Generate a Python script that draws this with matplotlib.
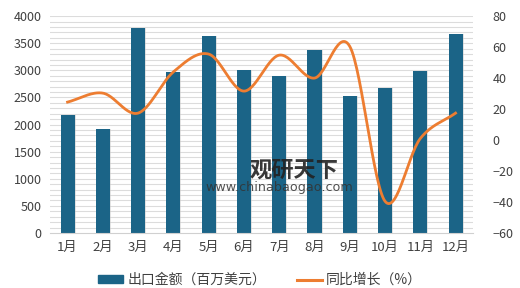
import numpy as np
import matplotlib
matplotlib.use("Agg")
import matplotlib.pyplot as plt
from matplotlib.patches import Patch
from matplotlib.lines import Line2D

plt.rcParams['font.family'] = ['Noto Sans CJK SC', 'DejaVu Sans']

months = ['1月', '2月', '3月', '4月', '5月', '6月', '7月', '8月', '9月', '10月', '11月', '12月']
export_value = [2175, 1917, 3779, 2968, 3631, 3005, 2894, 3373, 2525, 2673, 2986, 3668]
yoy_growth = [24.5, 30.3, 17.4, 44.0, 55.5, 31.6, 54.8, 40.0, 60.5, -39.5, 1.0, 17.4]

bar_color = '#1B6487'
line_color = '#ED7D31'


def catmull_rom(x, y, n=30):
    x = np.asarray(x, float)
    y = np.asarray(y, float)
    px = np.concatenate([[2 * x[0] - x[1]], x, [2 * x[-1] - x[-2]]])
    py = np.concatenate([[2 * y[0] - y[1]], y, [2 * y[-1] - y[-2]]])
    xs, ys = [], []
    for i in range(1, len(px) - 2):
        t = np.linspace(0, 1, n, endpoint=False)
        for P, out in ((px, xs), (py, ys)):
            p0, p1, p2, p3 = P[i - 1], P[i], P[i + 1], P[i + 2]
            out.append(0.5 * ((2 * p1) + (-p0 + p2) * t +
                              (2 * p0 - 5 * p1 + 4 * p2 - p3) * t ** 2 +
                              (-p0 + 3 * p1 - 3 * p2 + p3) * t ** 3))
    xs.append([x[-1]])
    ys.append([y[-1]])
    return np.concatenate(xs), np.concatenate(ys)


fig = plt.figure(figsize=(5.2, 2.88), dpi=100)
ax = fig.add_axes([0.096, 0.191, 0.814, 0.753])
ax2 = ax.twinx()

x = np.arange(len(months))
ax.set_axisbelow(True)
for yv in range(100, 4001, 100):
    ax.axhline(yv, color='#DCDCDC', lw=0.8, zorder=0)
ax.bar(x + 0.03, export_value, width=0.4, color='#C8C8C8', alpha=0.5, zorder=1)
ax.bar(x, export_value, width=0.4, color=bar_color, zorder=2)
ax.set_ylim(0, 4000)
ax.set_yticks(range(0, 4001, 500))
ax.set_xlim(-0.5, len(months) - 0.5)
ax.set_xticks(x)
ax.set_xticklabels(months, fontsize=9.5, color='#404040')
ax.tick_params(axis='y', labelsize=9, colors='#404040', length=0, pad=6)
ax.tick_params(axis='x', length=0, pad=6)
for s in ['top', 'right', 'left']:
    ax.spines[s].set_visible(False)
ax.spines['bottom'].set_color('#D0D0D0')

sx, sy = catmull_rom(x, yoy_growth)
ax2.plot(sx, sy, color=line_color, lw=2, zorder=3)
ax2.set_ylim(-60, 80)
ax2.set_yticks(range(-60, 81, 20))
ax2.tick_params(axis='y', labelsize=9, colors='#404040', length=0, pad=14)
for s in ['top', 'right', 'left', 'bottom']:
    ax2.spines[s].set_visible(False)

# watermark
fig.text(250 / 520, 1 - 170 / 288, '观研天下', fontsize=16, fontweight='bold',
         color='#222222', alpha=0.9, va='center', ha='left')
fig.text(205 / 520, 1 - 188 / 288, 'www.chinabaogao.com', fontsize=9.2,
         color='#333333', alpha=0.85, va='center', ha='left', family='DejaVu Sans')

handles = [Patch(color=bar_color), Line2D([0], [0], color=line_color, lw=2.2)]
labels = ['出口金额（百万美元）', '同比增长（%）']
fig.legend(handles, labels, loc='center', bbox_to_anchor=(0.5, 1 - 280 / 288), ncol=2,
           frameon=False, fontsize=10, handlelength=1.8, handleheight=0.5,
           columnspacing=2.2, handletextpad=0.3, labelcolor='#404040')

fig.savefig('out.png', dpi=100)
